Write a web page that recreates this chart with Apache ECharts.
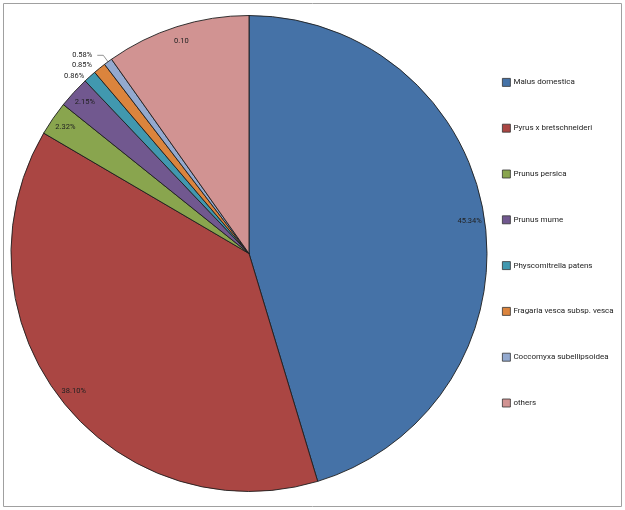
<!DOCTYPE html>
<html>
<head>
<meta charset="utf-8">
<script src="https://cdn.jsdelivr.net/npm/echarts@6/dist/echarts.min.js"></script>
<style>html,body{margin:0;padding:0;background:#fff}#c{width:625px;height:510px}</style>
</head>
<body>
<div id="c"></div>
<script>
var categories = ['Malus domestica','Pyrus x bretschneideri','Prunus persica','Prunus mume','Physcomitrella patens','Fragaria vesca subsp. vesca','Coccomyxa subellipsoidea','others'];
var values = [45.34, 38.10, 2.32, 2.15, 0.86, 0.85, 0.58, 9.80];
var labelTexts = ['45.34%','38.10%','2.32%','2.15%','0.86%','0.85%','0.58%','0.10'];
var colors = ['#4572A7','#AA4643','#89A54E','#71588F','#4198AF','#DB843D','#93A9CF','#D19392'];
var outsideIdx = [4,5,6];

var font = 'Roboto, "Liberation Sans", Arial, sans-serif';
var chart = echarts.init(document.getElementById('c'));

var mainData = categories.map(function(n,i){ return {name:n, value:values[i], itemStyle:{color:colors[i]}}; });
var lineLen = {4:[5,0], 5:[8,0], 6:[12,6]};
var labelData = categories.map(function(n,i){
  var d = {name:n, value:values[i]};
  if (outsideIdx.indexOf(i) >= 0) {
    d.label = {position:'outside', show:true};
    d.labelLine = {show: i===6, length: lineLen[i][0], length2: lineLen[i][1]};
  }
  return d;
});

chart.setOption({
  animation:false,
  color: colors,
  graphic:[{type:'rect', shape:{x:3.5,y:3.5,width:618,height:503}, style:{fill:'none', stroke:'#a0a0a0', lineWidth:1}, silent:true}],
  legend:{
    orient:'vertical', left:497, top:73,
    data: categories,
    itemWidth:8, itemHeight:8, itemGap:37,
    icon:'rect',
    itemStyle:{borderColor:'#333', borderWidth:0.8},
    textStyle:{fontFamily:font, fontSize:8, color:'#222', padding:[0,0,0,-2]},
    selectedMode:false
  },
  series:[
    {
      type:'pie', center:[249,253.5], radius:[0,238], startAngle:90, clockwise:true,
      avoidLabelOverlap:false, silent:true,
      label:{show:false}, labelLine:{show:false},
      itemStyle:{borderColor:'#1e1e1e', borderWidth:0.9},
      emphasis:{disabled:true},
      data: mainData
    },
    {
      type:'pie', center:[249,253.5], radius:[206,234], startAngle:90, clockwise:true,
      avoidLabelOverlap:false, silent:true,
      itemStyle:{color:'rgba(0,0,0,0)', borderWidth:0},
      emphasis:{disabled:true},
      label:{show:true, position:'inside', fontFamily:font, fontSize:7.5, color:'#222',
        formatter:function(p){ return labelTexts[p.dataIndex]; }},
      labelLine:{show:false, lineStyle:{color:'#777', width:0.8}},
      data: labelData
    }
  ]
});
</script>
</body>
</html>
